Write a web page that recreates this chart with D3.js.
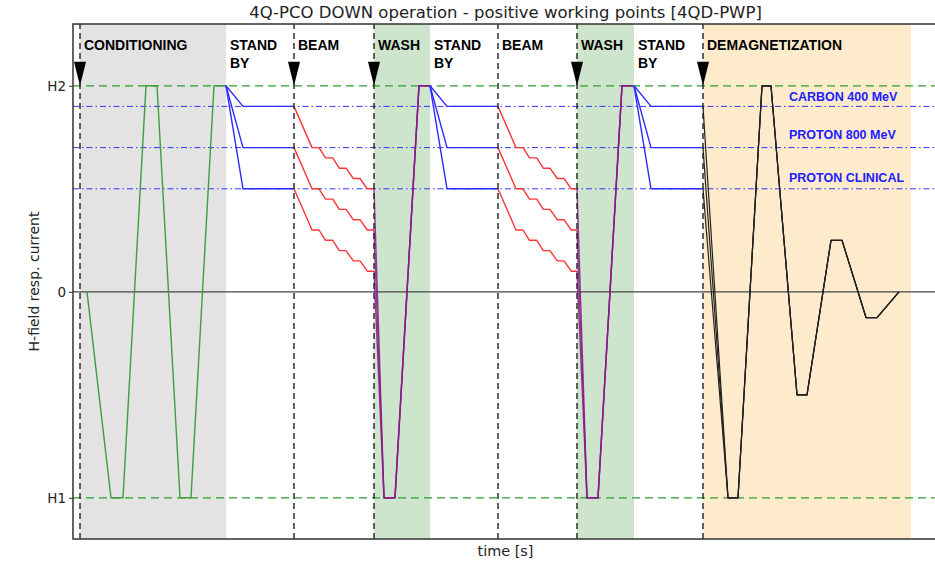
<!DOCTYPE html>
<html>
<head>
<meta charset="utf-8">
<script src="https://cdn.jsdelivr.net/npm/d3@7"></script>
<style>
  body { margin: 0; background: #fff; }
  svg { display: block; }
</style>
</head>
<body>
<div id="chart"></div>
<script>
// time axis in arbitrary seconds, field in units of H2 (H1 = -1)
const phases = [
  { name: ["CONDITIONING"], start: 3.5, end: 76.5, fill: "#e3e3e3" },
  { name: ["STAND", "BY"], start: 76.5, end: 110.5, fill: null },
  { name: ["BEAM"], start: 110.5, end: 150.5, fill: null },
  { name: ["WASH"], start: 150.5, end: 178.5, fill: "#cde4cd" },
  { name: ["STAND", "BY"], start: 178.5, end: 212.5, fill: null },
  { name: ["BEAM"], start: 212.5, end: 252, fill: null },
  { name: ["WASH"], start: 252, end: 280.5, fill: "#cde4cd" },
  { name: ["STAND", "BY"], start: 280.5, end: 315, fill: null },
  { name: ["DEMAGNETIZATION"], start: 315, end: 419, fill: "#feebcc" }
];
const markerTimes = [3.5, 110.5, 150.5, 212.5, 252, 315];
const arrowTimes = [3.5, 110.5, 150.5, 252, 315];

const levels = [0.9, 0.7, 0.5];
const levelNames = ["CARBON 400 MeV", "PROTON 800 MeV", "PROTON CLINICAL"];
const levelLabelY = [0.925, 0.74, 0.535];

const conditioning = [[7, 0], [19, -1], [25, -1], [36.5, 1], [42, 1], [53.5, -1], [59, -1], [70.5, 1], [76.5, 1]];

// standby ramp: from H2 down to the working level, then hold
const standbyRamp = 8.5;
// beam staircase: time from beam start, drop below the working level
const beamT = [0, 9, 12.5, 15.75, 19.35, 22.65, 26, 29.65, 33, 36.65, 40];
const beamDrop = [0, 0.2, 0.2, 0.25, 0.25, 0.3, 0.3, 0.35, 0.35, 0.4, 0.4];
// wash cycle: time from wash start and field
const washT = [5, 10.5, 22.5, 28];
const washH = [-1, -1, 1, 1];
// demagnetization: time and field after its start
const demagT = [12.5, 17.5, 29.5, 34, 47, 52, 64, 69.5, 81.5, 87, 98];
const demagH = [-1, -1, 1, 1, -0.5, -0.5, 0.25, 0.25, -0.125, -0.125, 0];

const W = 935, H = 562;
const margin = { left: 73, right: -3, top: 24, bottom: 23 };

const svg = d3.select("#chart").append("svg")
  .attr("width", W).attr("height", H)
  .style("font-family", "'DejaVu Sans', sans-serif");

const x = d3.scaleLinear().domain([0, 432.5]).range([margin.left, W - margin.right]);
const y = d3.scaleLinear().domain([-1.2, 1.3]).range([H - margin.bottom, margin.top]);

const line = d3.line().x(d => x(d[0])).y(d => y(d[1]));

// shaded phases
svg.append("g").selectAll("rect")
  .data(phases.filter(p => p.fill))
  .join("rect")
  .attr("x", d => x(d.start)).attr("width", d => x(d.end) - x(d.start))
  .attr("y", y(1.3)).attr("height", y(-1.2) - y(1.3))
  .attr("fill", d => d.fill);

// reference lines
svg.append("g").selectAll("line")
  .data([1, -1])
  .join("line")
  .attr("x1", x(0)).attr("x2", x(432.5))
  .attr("y1", d => y(d)).attr("y2", d => y(d))
  .attr("stroke", "#2ca02c").attr("stroke-width", 1.3)
  .attr("stroke-dasharray", "8,5");

svg.append("g").selectAll("line")
  .data(levels)
  .join("line")
  .attr("x1", x(0)).attr("x2", x(432.5))
  .attr("y1", d => y(d)).attr("y2", d => y(d))
  .attr("stroke", "#3333ff").attr("stroke-width", 1)
  .attr("stroke-dasharray", "6,3,1.5,3");

svg.append("line")
  .attr("x1", x(0)).attr("x2", x(432.5))
  .attr("y1", y(0)).attr("y2", y(0))
  .attr("stroke", "#444").attr("stroke-width", 1.3);

// curves
const curves = svg.append("g").attr("fill", "none").attr("stroke-linejoin", "round");

curves.append("path")
  .attr("d", line(conditioning))
  .attr("stroke", "#3c9e3c").attr("stroke-width", 1.4);

const standbyStarts = [phases[1], phases[4], phases[7]];
const beamPhases = [phases[2], phases[5]];
const washPhases = [phases[3], phases[6]];

levels.forEach(L => {
  standbyStarts.forEach(p => {
    curves.append("path")
      .attr("d", line([[p.start, 1], [p.start + standbyRamp, L], [p.end, L]]))
      .attr("stroke", "#2b2bff").attr("stroke-width", 1.4);
  });
  beamPhases.forEach(p => {
    const pts = beamT.map((t, i) => [p.start + t, L - beamDrop[i]]);
    pts[pts.length - 1][0] = p.end;
    curves.append("path")
      .attr("d", line(pts))
      .attr("stroke", "#ff3535").attr("stroke-width", 1.4);
  });
  washPhases.forEach(p => {
    const pts = [[p.start, L - 0.4]].concat(washT.map((t, i) => [p.start + t, washH[i]]));
    curves.append("path")
      .attr("d", line(pts))
      .attr("stroke", "#8a1a8a").attr("stroke-width", 1.4).attr("stroke-opacity", 0.85);
  });
  const d0 = phases[8].start;
  curves.append("path")
    .attr("d", line([[d0, L]].concat(demagT.map((t, i) => [d0 + t, demagH[i]]))))
    .attr("stroke", "#222").attr("stroke-width", 1.2);
});

// phase markers
svg.append("g").selectAll("line")
  .data(markerTimes)
  .join("line")
  .attr("x1", d => x(d)).attr("x2", d => x(d))
  .attr("y1", y(-1.2)).attr("y2", y(1.3))
  .attr("stroke", "#222").attr("stroke-width", 1.4)
  .attr("stroke-dasharray", "6,4");

svg.append("g").selectAll("path")
  .data(arrowTimes)
  .join("path")
  .attr("d", d => `M${x(d) - 6},${y(1) - 24}L${x(d) + 6},${y(1) - 24}L${x(d)},${y(1)}Z`)
  .attr("fill", "#000");

// phase labels
const labels = svg.append("g")
  .style("font-family", "'Liberation Sans', Arial, sans-serif")
  .style("font-weight", "bold").style("font-size", "14px");
phases.forEach(p => {
  const t = labels.append("text").attr("x", x(p.start) + 4).attr("y", margin.top + 26);
  p.name.forEach((s, i) => t.append("tspan").attr("x", x(p.start) + 4).attr("dy", i ? 18 : 0).text(s));
});

svg.append("g").selectAll("text")
  .data(levelNames)
  .join("text")
  .attr("x", x(358)).attr("y", (d, i) => y(levelLabelY[i]))
  .style("font-family", "'Liberation Sans', Arial, sans-serif")
  .style("font-weight", "bold").style("font-size", "12.5px")
  .attr("fill", "#2020ff")
  .text(d => d);

// axes
const yAxis = svg.append("g").attr("transform", `translate(${margin.left},0)`)
  .call(d3.axisLeft(y).tickValues([-1, 0, 1]).tickFormat(d => d === 1 ? "H2" : d === -1 ? "H1" : "0").tickSize(4).tickPadding(3));
yAxis.select(".domain").remove();
yAxis.selectAll("text").style("font-size", "13.5px").style("font-family", "'DejaVu Sans', sans-serif").attr("fill", "#222");
yAxis.selectAll("line").attr("stroke", "#333");

svg.append("path")
  .attr("d", `M${x(432.5)},${y(1.3)}H${x(0)}V${y(-1.2)}H${x(432.5)}`)
  .attr("fill", "none").attr("stroke", "#333").attr("stroke-width", 1.5);

svg.append("text")
  .attr("x", (x(0) + x(432.5)) / 2).attr("y", 18)
  .attr("text-anchor", "middle").style("font-size", "16.5px").attr("fill", "#222")
  .text("4Q-PCO DOWN operation - positive working points [4QD-PWP]");

svg.append("text")
  .attr("x", (x(0) + x(432.5)) / 2).attr("y", 556)
  .attr("text-anchor", "middle").style("font-size", "14.4px").attr("fill", "#222")
  .text("time [s]");

svg.append("text")
  .attr("transform", `translate(39,${(y(1.3) + y(-1.2)) / 2}) rotate(-90)`)
  .attr("text-anchor", "middle").style("font-size", "14px").attr("fill", "#222")
  .text("H-field resp. current");
</script>
</body>
</html>
